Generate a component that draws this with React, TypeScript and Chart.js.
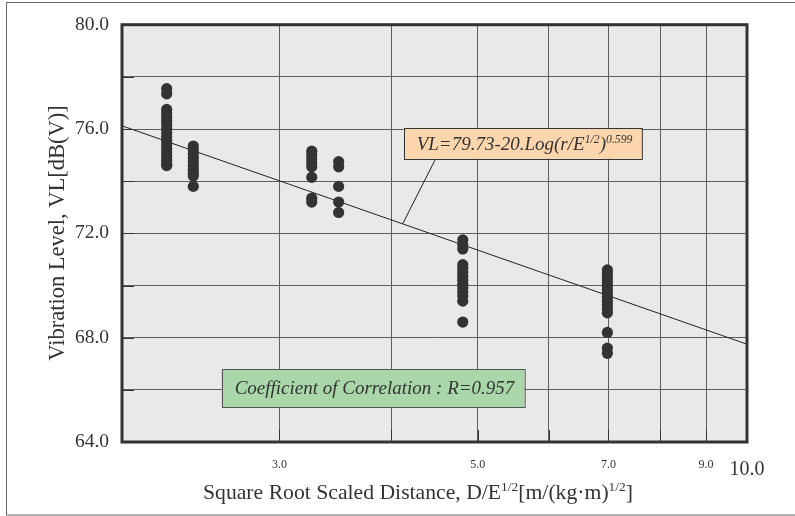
import React, { useEffect, useRef } from "react";
import { Chart, registerables } from "chart.js";

Chart.register(...registerables);

// Measured vibration levels, grouped by scaled distance (D/E^1/2)
const groupDistances = [2.244, 2.403, 3.26, 3.494, 4.81, 6.98];
const levelsGroupA = [77.55, 77.35, 76.75, 76.6, 76.45, 76.3, 76.15, 76.0, 75.85, 75.7, 75.55, 75.4, 75.25, 75.1, 74.95, 74.8, 74.65, 74.6];
const levelsGroupB = [75.35, 75.2, 75.05, 74.9, 74.75, 74.6, 74.45, 74.3, 74.2, 73.8];
const levelsGroupC = [75.15, 75.0, 74.85, 74.7, 74.55, 74.15, 73.35, 73.2];
const levelsGroupD = [74.75, 74.55, 73.8, 73.2, 72.8];
const levelsGroupE = [71.75, 71.55, 71.4, 70.8, 70.65, 70.5, 70.35, 70.2, 70.05, 69.9, 69.75, 69.6, 69.4, 68.6];
const levelsGroupF = [70.6, 70.45, 70.3, 70.15, 70.0, 69.85, 69.7, 69.55, 69.4, 69.25, 69.1, 68.95, 68.2, 67.6, 67.4];
const levelGroups = [levelsGroupA, levelsGroupB, levelsGroupC, levelsGroupD, levelsGroupE, levelsGroupF];

// Regression: VL = 79.73 - 20 * log10((r/E^1/2)^0.599)
const fitIntercept = 79.73;
const fitFactor = 20;
const fitExponent = 0.599;
const correlationR = 0.957;

// Axes
const xMin = 2;
const xMax = 10;
const xGridValues = [2, 3, 4, 5, 6, 7, 8, 9, 10];
const xLabelledValues = [3, 5, 7, 9, 10];
const yMin = 64;
const yMax = 80;
const yGridValues = [64, 66, 68, 70, 72, 74, 76, 78, 80];
const yLabelledValues = [64, 68, 72, 76, 80];

// Where the leader from the equation box meets the fitted line
const leaderDistance = 4.12;

const SERIF = '"Liberation Serif", "DejaVu Serif", serif';
const INK = "#333333";

const fitLevel = (d: number) => fitIntercept - fitFactor * fitExponent * Math.log10(d);

type Part = { text: string; sup?: boolean };

function richWidth(ctx: CanvasRenderingContext2D, parts: Part[], size: number, style: string) {
  let w = 0;
  for (const p of parts) {
    ctx.font = `${style} ${p.sup ? size * 0.62 : size}px ${SERIF}`;
    w += ctx.measureText(p.text).width;
  }
  return w;
}

function drawRich(ctx: CanvasRenderingContext2D, parts: Part[], x: number, y: number, size: number, style: string, align: "left" | "center") {
  const total = richWidth(ctx, parts, size, style);
  let cx = align === "center" ? x - total / 2 : x;
  ctx.textAlign = "left";
  ctx.textBaseline = "alphabetic";
  for (const p of parts) {
    const s = p.sup ? size * 0.62 : size;
    ctx.font = `${style} ${s}px ${SERIF}`;
    ctx.fillText(p.text, cx, p.sup ? y - size * 0.38 : y);
    cx += ctx.measureText(p.text).width;
  }
  return total;
}

const decorPlugin = {
  id: "decor",
  beforeDraw(chart: any) {
    const { ctx, chartArea: a, width, height } = chart;
    ctx.save();
    ctx.fillStyle = "#ffffff";
    ctx.fillRect(0, 0, width, height);
    ctx.fillStyle = "#e9e9e9";
    ctx.fillRect(a.left, a.top, a.right - a.left, a.bottom - a.top);
    ctx.restore();
  },
  afterDatasetsDraw(chart: any) {
    const { ctx, chartArea: a, scales } = chart;
    const xs = scales.x;
    const ys = scales.y;
    ctx.save();

    // short inner tick marks
    ctx.strokeStyle = INK;
    ctx.lineWidth = 1;
    for (const v of yGridValues) {
      const py = Math.round(ys.getPixelForValue(v)) + 0.5;
      ctx.beginPath();
      ctx.moveTo(a.left, py);
      ctx.lineTo(a.left + 12, py);
      ctx.stroke();
    }
    for (const v of xGridValues) {
      const px = Math.round(xs.getPixelForValue(v)) + 0.5;
      ctx.beginPath();
      ctx.moveTo(px, a.bottom);
      ctx.lineTo(px, a.bottom - 12);
      ctx.stroke();
    }

    // leader from the equation box to the fitted line
    const lx = xs.getPixelForValue(leaderDistance);
    const ly = ys.getPixelForValue(fitLevel(leaderDistance));
    const boxLeft = lx + 1;
    const boxTop = ys.getPixelForValue(76.05);
    const eqParts: Part[] = [
      { text: "VL=79.73-20.Log(r/E" },
      { text: "1/2", sup: true },
      { text: ")" },
      { text: fitExponent.toFixed(3), sup: true },
    ];
    const eqSize = 19;
    const eqW = richWidth(ctx, eqParts, eqSize, "italic");
    const boxW = eqW + 22;
    const boxH = 31;
    ctx.strokeStyle = "#222";
    ctx.lineWidth = 1;
    ctx.beginPath();
    ctx.moveTo(boxLeft + 32, boxTop + boxH);
    ctx.lineTo(lx, ly);
    ctx.stroke();

    ctx.fillStyle = "#fdd6ae";
    ctx.fillRect(boxLeft, boxTop, boxW, boxH);
    ctx.strokeStyle = "#333";
    ctx.strokeRect(Math.round(boxLeft) + 0.5, Math.round(boxTop) + 0.5, boxW, boxH);
    ctx.fillStyle = INK;
    drawRich(ctx, eqParts, boxLeft + 13, boxTop + 22, eqSize, "italic", "left");

    // correlation box
    const rText = `Coefficient of Correlation : R=${correlationR}`;
    const rSize = 19;
    ctx.font = `italic ${rSize}px ${SERIF}`;
    const rW = ctx.measureText(rText).width;
    const gLeft = xs.getPixelForValue(2.585);
    const gTop = ys.getPixelForValue(66.79);
    const gW = rW + 23;
    const gH = 38;
    ctx.fillStyle = "#a9d7a9";
    ctx.fillRect(gLeft, gTop, gW, gH);
    ctx.strokeStyle = "#555";
    ctx.strokeRect(Math.round(gLeft) + 0.5, Math.round(gTop) + 0.5, gW, gH);
    ctx.fillStyle = INK;
    ctx.textAlign = "left";
    ctx.textBaseline = "middle";
    ctx.fillText(rText, gLeft + 13, gTop + gH / 2 + 1);

    // heavy plot frame
    ctx.strokeStyle = INK;
    ctx.lineWidth = 3;
    ctx.strokeRect(a.left, a.top, a.right - a.left, a.bottom - a.top);
    ctx.restore();
  },
  afterDraw(chart: any) {
    const { ctx } = chart;
    ctx.save();
    // outer frame
    ctx.strokeStyle = "#6a6a6a";
    ctx.lineWidth = 1;
    ctx.strokeRect(6.5, 2.5, 800, 512.5);

    ctx.fillStyle = INK;
    // x-axis title
    const xTitle: Part[] = [
      { text: "Square Root Scaled Distance, D/E" },
      { text: "1/2", sup: true },
      { text: "[m/(kg\u00b7m)" },
      { text: "1/2", sup: true },
      { text: "]" },
    ];
    drawRich(ctx, xTitle, 418, 499, 21.7, "normal", "center");

    // y-axis title
    ctx.translate(58, 233);
    ctx.rotate(-Math.PI / 2);
    ctx.font = `22.5px ${SERIF}`;
    ctx.textAlign = "center";
    ctx.textBaseline = "middle";
    ctx.fillText("Vibration Level, VL[dB(V)]", 0, 0);
    ctx.restore();
  },
};

export default function App() {
  const canvasRef = useRef<HTMLCanvasElement | null>(null);

  useEffect(() => {
    const canvas = canvasRef.current;
    if (!canvas) return;

    const scatterPoints = levelGroups.flatMap((levels, i) =>
      levels.map((v) => ({ x: groupDistances[i], y: v }))
    );
    const fitPoints = [xMin, xMax].map((d) => ({ x: d, y: fitLevel(d) }));

    const chart = new Chart(canvas, {
      type: "scatter",
      data: {
        datasets: [
          {
            type: "line",
            label: "fit",
            data: fitPoints,
            borderColor: "#222",
            borderWidth: 1,
            pointRadius: 0,
            fill: false,
            order: 2,
          },
          {
            label: "measured",
            data: scatterPoints,
            backgroundColor: INK,
            borderWidth: 0,
            pointRadius: 5.6,
            pointHoverRadius: 5.6,
            order: 1,
          },
        ],
      },
      options: {
        responsive: false,
        animation: false,
        events: [],
        layout: { padding: { top: 24, right: 48, left: 0, bottom: 0 } },
        plugins: {
          legend: { display: false },
          tooltip: { enabled: false },
          title: { display: false },
        },
        scales: {
          x: {
            type: "logarithmic",
            min: xMin,
            max: xMax,
            afterBuildTicks: (s: any) => {
              s.ticks = xGridValues.map((v) => ({ value: v }));
            },
            afterFit: (s: any) => {
              s.height = 74;
            },
            grid: { color: "#5e5e5e", lineWidth: 1, drawTicks: false },
            border: { display: false },
            ticks: {
              autoSkip: false,
              maxRotation: 0,
              padding: 16,
              color: INK,
              font: (c: any) => ({
                family: SERIF,
                size: c.tick && c.tick.value === 10 ? 20 : 12,
              }),
              callback: (v: any) => (xLabelledValues.includes(Number(v)) ? Number(v).toFixed(1) : ""),
            },
          },
          y: {
            type: "linear",
            min: yMin,
            max: yMax,
            afterBuildTicks: (s: any) => {
              s.ticks = yGridValues.map((v) => ({ value: v }));
            },
            afterFit: (s: any) => {
              s.width = 122;
            },
            grid: { color: "#5e5e5e", lineWidth: 1, drawTicks: false },
            border: { display: false },
            ticks: {
              padding: 13,
              color: INK,
              font: { family: SERIF, size: 19.5 },
              callback: (v: any) => (yLabelledValues.includes(Number(v)) ? Number(v).toFixed(1) : ""),
            },
          },
        },
      },
      plugins: [decorPlugin],
    });

    return () => chart.destroy();
  }, []);

  return (
    <div style={{ position: "fixed", left: 0, top: 0, width: 795, height: 516, background: "#fff" }}>
      <canvas ref={canvasRef} width={795} height={516} style={{ display: "block" }} />
    </div>
  );
}
